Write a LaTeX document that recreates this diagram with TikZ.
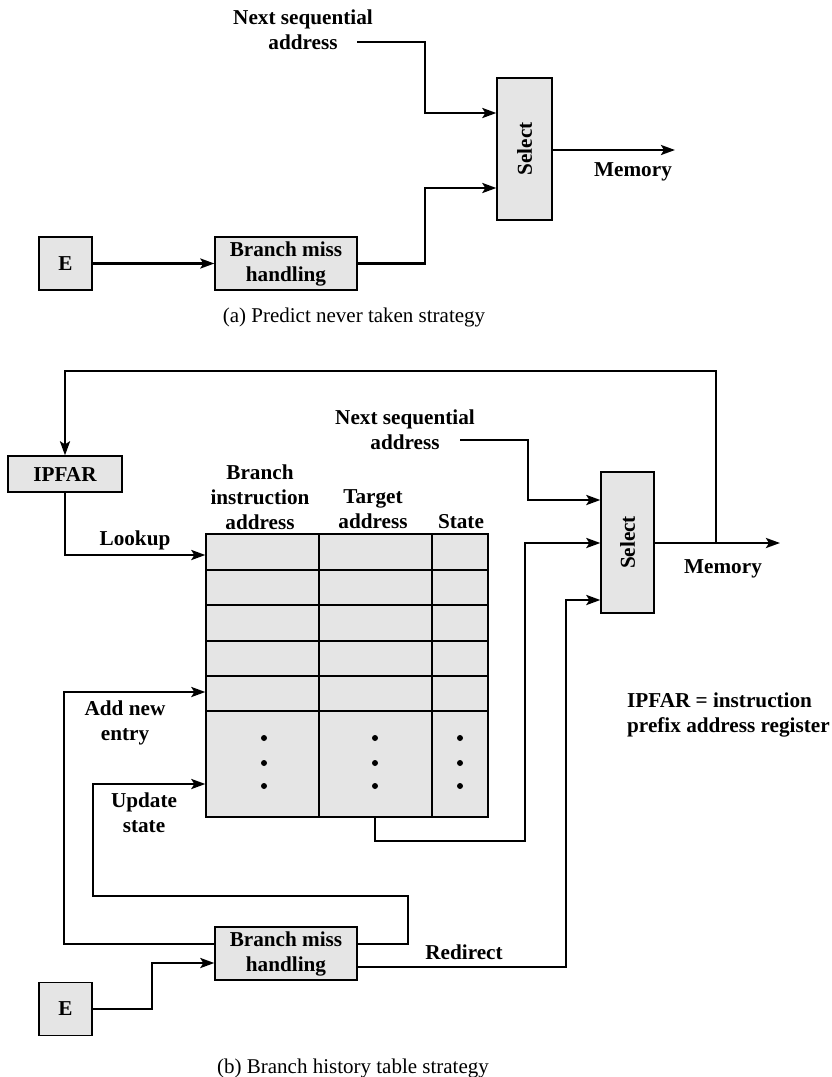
\documentclass[tikz,border=0pt]{standalone}
\usepackage{fontspec}
\setmainfont{Liberation Serif}
\usetikzlibrary{arrows.meta}
\definecolor{boxgray}{gray}{0.9}
\begin{document}
\begin{tikzpicture}[x=1pt,y=-1pt,
  box/.style={draw, line width=1.3pt, fill=boxgray, inner sep=0pt, font=\fontsize{21.2}{25}\selectfont\bfseries, align=center},
  wire/.style={line width=2.6pt},
  arr/.style={wire,-{Stealth[length=14pt,width=10pt,inset=3pt]}},
  tblline/.style={line width=1.3pt},
  lbl/.style={font=\fontsize{21.2}{25}\selectfont\bfseries, align=center, inner sep=0pt},
  captxt/.style={font=\fontsize{21}{25}\selectfont, inner sep=0pt}]
\useasboundingbox (0,0) rectangle (831,1077);

% ---------- (a) ----------
\node[lbl] (nsa) at (303,30) {Next sequential\\address};
\coordinate (na1) at (357,42);
\node[box, minimum width=55, minimum height=142] (sela) at (524.5,149) {\rotatebox{90}{Select}};
\node[box, minimum width=142, minimum height=53] (bma) at (286,263.5) {Branch miss\\handling};
\node[box, minimum width=53, minimum height=53] (ea) at (65.5,263.5) {E};
\coordinate (mema) at (675,150);
\node[lbl] (memla) at (633,172) {Memory};
\node[captxt] (capa) at (354,317) {(a) Predict never taken strategy};

\draw[arr] (na1) -- (425,42) -- (425,113) -- (sela.west |- 0,113);
\draw[arr] (ea.east) -- (bma.west);
\draw[arr] (bma.east) -- (425,263.5) -- (425,188) -- (sela.west |- 0,188);
\draw[arr] (sela.east |- 0,150) -- (mema);

% ---------- (b) ----------
\node[box, minimum width=114, minimum height=36] (ipfar) at (65,474) {IPFAR};
\node[box, minimum width=53, minimum height=141] (selb) at (627.5,542.5) {\rotatebox{90}{Select}};
\coordinate (memb) at (780,543);
\coordinate (tap) at (716,543);
\node[lbl] (memlb) at (723,569) {Memory};

\node[lbl] (nsb) at (405,429.5) {Next sequential\\address};
\coordinate (nb1) at (460,440);

\node[draw, line width=1.3pt, fill=boxgray, minimum width=282, minimum height=283, inner sep=0pt] (tbl) at (347,675.5) {};
\foreach \yy in {570,605,641,676,711} \draw[tblline] (tbl.west |- 0,\yy) -- (tbl.east |- 0,\yy);
\foreach \xx in {319,432} \draw[tblline] (\xx,0 |- tbl.north) -- (\xx,0 |- tbl.south);
\foreach \xx in {264,375,460} \foreach \yy in {738,763,786} \fill (\xx,\yy) circle (3);

\node[lbl] (h1) at (260,497) {Branch\\instruction\\address};
\node[lbl] (h2) at (373,509.5) {Target\\address};
\node[lbl] (h3) at (461,522) {State};
\node[lbl] (lookup) at (135,540) {Lookup};

\node[box, minimum width=142, minimum height=53] (bmb) at (286,953.5) {Branch miss\\handling};
\node[box, minimum width=53, minimum height=53] (eb) at (65.5,1009) {E};

\node[lbl] (addl) at (125,722.5) {Add new\\entry};
\node[lbl] (updl) at (144,813) {Update\\state};
\node[lbl] (redl) at (464,952) {Redirect};
\node[lbl, align=left, anchor=west] (note) at (627,714.5) {IPFAR = instruction\\prefix address register};
\node[captxt] (capb) at (353,1068) {(b) Branch history table strategy};

\draw[arr] (selb.east |- 0,543) -- (memb);
\draw[arr] (tap) -- (716,371) -- (65,371) -- (ipfar.north);
\draw[arr] (ipfar.south) -- (65,555) -- (tbl.west |- 0,555);
\draw[arr] (nb1) -- (528,440) -- (528,500) -- (selb.west |- 0,500);
\draw[arr] (375,0 |- tbl.south) -- (375,841) -- (525,841) -- (525,543) -- (selb.west |- 0,543);
\draw[arr] (eb.east) -- (152,1009) -- (152,963) -- (bmb.west |- 0,963);
\draw[arr] (bmb.west |- 0,944) -- (64,944) -- (64,692) -- (tbl.west |- 0,692);
\draw[arr] (bmb.east |- 0,944) -- (408,944) -- (408,896) -- (93,896) -- (93,784) -- (tbl.west |- 0,784);
\draw[arr] (bmb.east |- 0,967) -- (566,967) -- (566,600) -- (selb.west |- 0,600);
\end{tikzpicture}
\end{document}
